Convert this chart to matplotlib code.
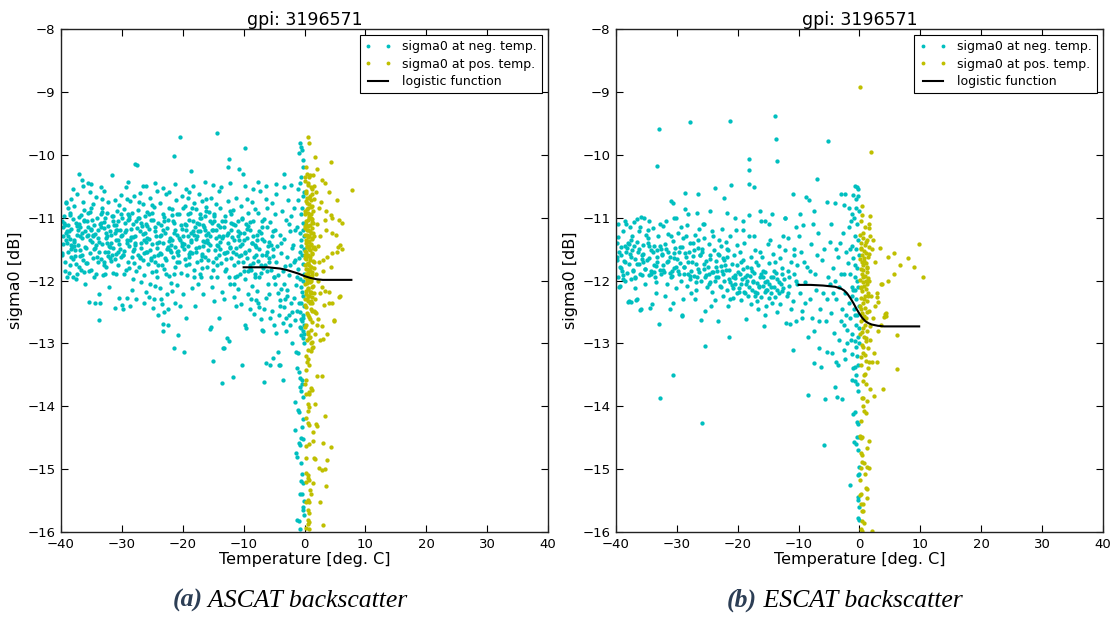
import matplotlib
matplotlib.use("Agg")
import matplotlib.pyplot as plt

# ---------------- data ----------------
TITLE = "gpi: 3196571"
XTICKS = [-40, -30, -20, -10, 0, 10, 20, 30, 40]
YTICKS = [-16, -15, -14, -13, -12, -11, -10, -9, -8]

# ---- panel (a) ASCAT: logistic fit ----
A_FIT_X = [-10, -8, -6, -5, -4, -3, -2, -1, 0, 1, 2, 3, 4, 6, 7.7]
A_FIT_Y = [-11.79, -11.79, -11.79, -11.80, -11.81, -11.83, -11.86, -11.89,
           -11.93, -11.96, -11.98, -11.99, -11.99, -11.99, -11.99]

# ---- panel (a) sigma0 at negative temperature ----
A_NEG_W = [
    (-39.8,-11.05),(-39.6,-11.42),(-39.5,-10.98),(-39.3,-11.71),(-39.2,-11.25),(-39.1,-10.76),(-38.9,-11.55),(-38.8,-11.12),
    (-38.7,-11.88),(-38.6,-11.34),(-38.5,-10.92),(-38.4,-11.63),(-38.3,-11.18),(-38.2,-11.47),(-38.1,-11.02),(-39.9,-11.6),
    (-39.7,-11.3),(-39.4,-11.85),(-39.0,-11.4),(-38.9,-10.85),(-38.6,-11.75),(-38.3,-11.5),(-38.1,-11.95),(-39.3,-11.12),
    (-38.7,-11.22),(-39.6,-11.15),(-38.4,-10.7),(-39.0,-11.95),
    (-37.9,-11.36),(-37.8,-10.82),(-37.7,-11.61),(-37.6,-11.09),(-37.5,-11.98),(-37.4,-11.27),(-37.3,-10.62),(-37.2,-11.44),
    (-37.1,-10.31),(-37.0,-11.79),(-36.9,-11.15),(-36.8,-11.52),(-36.7,-10.96),(-36.6,-10.40),(-36.5,-11.33),(-36.4,-11.68),
    (-36.3,-11.04),(-36.2,-11.87),(-36.1,-11.21),(-36.0,-12.05),(-37.8,-11.45),(-37.4,-11.9),(-37.0,-11.1),(-36.6,-11.6),
    (-36.2,-10.88),(-37.6,-11.74),(-36.9,-11.3),(-36.4,-10.75),(-37.2,-11.2),(-36.7,-11.84),
    (-35.9,-11.49),(-35.8,-11.06),(-35.7,-11.72),(-35.6,-10.45),(-35.5,-11.28),(-35.4,-12.34),(-35.3,-10.91),(-35.2,-11.57),
    (-35.1,-11.19),(-35.0,-11.83),(-34.9,-11.38),(-34.8,-10.78),(-34.7,-11.64),(-34.6,-11.12),(-34.5,-11.95),(-34.4,-11.26),
    (-34.3,-10.67),(-34.2,-11.44),(-34.1,-11.01),(-34.0,-11.71),(-35.8,-11.3),(-35.4,-11.85),(-35.0,-10.85),(-34.6,-11.5),
    (-34.2,-11.9),(-35.6,-11.15),(-34.8,-11.3),(-34.4,-12.35),(-35.2,-10.6),(-34.0,-11.2),
    (-33.9,-11.33),(-33.8,-12.21),(-33.7,-12.63),(-33.6,-12.36),(-33.5,-11.09),(-33.4,-11.66),(-33.3,-10.85),(-33.2,-11.42),
    (-33.1,-11.92),(-33.0,-11.17),(-32.9,-10.58),(-32.8,-11.54),(-32.7,-11.01),(-32.6,-11.78),(-32.5,-11.29),(-32.4,-10.93),
    (-32.3,-11.61),(-32.2,-11.13),(-32.1,-12.1),(-32.0,-11.47),(-33.8,-11.55),(-33.4,-10.95),(-33.0,-11.75),(-32.6,-11.25),
    (-32.2,-10.75),(-33.6,-11.1),(-32.8,-11.9),(-32.4,-11.4),(-33.2,-10.7),(-32.0,-11.65),
    (-31.9,-11.21),(-31.8,-11.69),(-31.7,-10.98),(-31.6,-10.33),(-31.5,-11.48),(-31.4,-11.88),(-31.3,-11.12),(-31.2,-10.72),
    (-31.1,-12.44),(-31.0,-11.35),(-30.9,-11.58),(-30.8,-10.89),(-30.7,-11.76),(-30.6,-11.05),(-30.5,-11.42),(-30.4,-12.28),
    (-30.3,-11.19),(-30.2,-10.64),(-30.1,-11.63),(-30.0,-12.39),(-31.8,-11.4),(-31.4,-11.05),(-31.0,-11.9),(-30.6,-11.55),
    (-30.2,-11.3),(-31.6,-11.6),(-30.8,-11.2),(-30.4,-10.8),(-31.2,-11.25),(-30.0,-11.0),
    (-29.9,-11.27),(-29.8,-12.46),(-29.7,-10.86),(-29.6,-11.53),(-29.5,-11.09),(-29.4,-11.84),(-29.3,-10.52),(-29.2,-11.36),
    (-29.1,-12.28),(-29.0,-11.71),(-28.9,-11.02),(-28.8,-11.45),(-28.7,-10.74),(-28.6,-12.41),(-28.5,-11.18),(-28.4,-11.62),
    (-28.3,-10.93),(-28.2,-11.97),(-28.1,-11.31),(-28.0,-10.66),(-29.8,-11.6),(-29.4,-11.2),(-29.0,-10.95),(-28.6,-11.35),
    (-28.2,-11.1),(-29.6,-11.9),(-28.8,-11.8),(-28.4,-12.15),(-29.2,-10.7),(-28.0,-11.5),
    (-27.9,-11.41),(-27.8,-10.14),(-27.7,-12.3),(-27.6,-11.06),(-27.5,-10.17),(-27.4,-11.59),(-27.3,-10.88),(-27.2,-11.79),
    (-27.1,-11.22),(-27.0,-10.61),(-26.9,-11.48),(-26.8,-12.02),(-26.7,-11.13),(-26.6,-11.67),(-26.5,-10.79),(-26.4,-11.36),
    (-26.3,-11.91),(-26.2,-10.97),(-26.1,-11.55),(-26.0,-12.18),(-27.8,-11.3),(-27.4,-11.0),(-27.0,-11.65),(-26.6,-10.5),
    (-26.2,-11.25),(-27.6,-11.85),(-26.8,-11.4),(-26.4,-12.35),(-27.2,-10.75),(-26.0,-11.1),
    (-25.9,-11.32),(-25.8,-10.91),(-25.7,-11.74),(-25.6,-11.18),(-25.5,-12.26),(-25.4,-10.69),(-25.3,-11.51),(-25.2,-11.03),
    (-25.1,-11.87),(-25.0,-11.42),(-24.9,-12.44),(-24.8,-10.83),(-24.7,-11.61),(-24.6,-11.15),(-24.5,-12.08),(-24.4,-11.29),
    (-24.3,-10.58),(-24.2,-11.95),(-24.1,-12.55),(-24.0,-11.08),(-25.8,-11.55),(-25.4,-12.05),(-25.0,-10.8),(-24.6,-11.7),
    (-24.2,-11.4),(-25.6,-10.95),(-24.8,-12.3),(-24.4,-11.85),(-25.2,-11.65),(-24.0,-11.6),
    (-23.9,-11.39),(-23.8,-12.12),(-23.7,-10.76),(-23.6,-11.58),(-23.5,-11.11),(-23.4,-12.38),(-23.3,-10.95),(-23.2,-12.69),
    (-23.1,-12.5),(-23.0,-11.82),(-22.9,-11.25),(-22.8,-10.63),(-22.7,-11.68),(-22.6,-12.21),(-22.5,-11.04),(-22.4,-11.47),
    (-22.3,-10.85),(-22.2,-11.93),(-22.1,-11.33),(-22.0,-12.04),(-23.8,-11.3),(-23.4,-11.75),(-23.0,-11.05),(-22.6,-11.5),
    (-22.2,-10.6),(-23.6,-12.3),(-22.8,-11.9),(-22.4,-12.45),(-23.2,-11.2),(-22.0,-11.55),(-23.2,-12.81),(-22.5,-12.7),
    (-21.9,-11.44),(-21.8,-10.87),(-21.7,-12.16),(-21.6,-11.62),(-21.5,-10.02),(-21.5,-13.07),(-21.4,-11.09),(-21.3,-12.35),
    (-21.2,-11.78),(-21.1,-10.72),(-21.0,-11.27),(-20.9,-12.07),(-20.8,-12.87),(-20.7,-11.53),(-20.6,-10.94),(-20.5,-9.71),
    (-20.4,-11.36),(-20.3,-11.88),(-20.2,-10.66),(-20.1,-11.18),(-20.0,-12.22),(-21.8,-11.35),(-21.4,-11.9),(-21.0,-10.95),
    (-20.6,-11.7),(-20.2,-11.45),(-21.6,-11.05),(-20.8,-11.6),(-20.4,-12.4),(-21.2,-11.2),(-20.0,-10.85),
]
A_NEG_M = [
    (-19.9,-11.29),(-19.8,-13.13),(-19.7,-10.81),(-19.6,-11.66),(-19.5,-12.59),(-19.4,-11.12),(-19.3,-11.91),(-19.2,-10.69),
    (-19.1,-11.45),(-19.0,-11.03),(-18.9,-11.74),(-18.8,-10.92),(-18.7,-11.38),(-18.6,-10.26),(-18.5,-11.57),(-18.4,-12.12),
    (-18.3,-11.21),(-18.2,-10.77),(-18.1,-11.83),(-18.0,-12.4),(-19.8,-11.5),(-19.4,-11.75),(-19.0,-10.6),(-18.6,-11.25),
    (-18.2,-11.95),(-19.6,-11.1),(-18.8,-11.55),(-18.4,-10.85),(-19.2,-11.3),(-18.0,-11.15),
    (-17.9,-11.34),(-17.8,-10.86),(-17.7,-11.71),(-17.6,-11.08),(-17.5,-12.05),(-17.4,-11.46),(-17.3,-10.63),(-17.2,-11.22),
    (-17.1,-11.89),(-17.0,-11.01),(-16.9,-11.58),(-16.8,-10.74),(-16.7,-11.37),(-16.6,-12.21),(-16.5,-11.15),(-16.4,-10.97),
    (-16.3,-11.63),(-16.2,-11.28),(-16.1,-10.83),(-16.0,-11.78),(-17.8,-11.55),(-17.4,-11.1),(-17.0,-11.95),(-16.6,-11.45),
    (-16.2,-10.7),(-17.6,-11.3),(-16.8,-11.8),(-16.4,-11.2),(-17.2,-10.95),(-16.0,-11.35),
    (-15.9,-11.25),(-15.8,-11.67),(-15.7,-10.91),(-15.6,-12.77),(-15.5,-11.43),(-15.4,-10.68),(-15.3,-12.74),(-15.2,-11.19),
    (-15.1,-13.28),(-15.0,-11.84),(-14.9,-11.06),(-14.8,-12.32),(-14.7,-11.51),(-14.6,-10.79),(-14.5,-11.33),(-14.4,-9.65),
    (-14.3,-11.94),(-14.2,-11.12),(-14.1,-10.58),(-14.0,-12.6),(-15.8,-11.4),(-15.4,-11.95),(-15.0,-11.2),(-14.6,-11.65),
    (-14.2,-11.45),(-15.6,-11.05),(-14.8,-10.95),(-14.4,-11.75),(-15.2,-12.1),(-14.0,-11.3),
    (-13.9,-11.39),(-13.8,-10.84),(-13.7,-11.72),(-13.6,-12.18),(-13.5,-13.63),(-13.4,-13.08),(-13.3,-11.15),(-13.2,-13.07),
    (-13.1,-11.56),(-13.0,-10.97),(-12.9,-11.81),(-12.8,-12.92),(-12.7,-11.27),(-12.6,-10.73),(-12.5,-10.19),(-12.4,-10.07),
    (-12.4,-12.97),(-12.3,-11.48),(-12.2,-12.05),(-12.1,-11.09),(-12.0,-11.64),(-13.8,-11.5),(-13.4,-11.3),(-13.0,-11.85),
    (-12.6,-11.4),(-12.2,-10.9),(-13.6,-11.05),(-12.8,-11.55),(-12.4,-11.95),(-13.2,-12.3),(-12.0,-11.2),
    (-11.9,-11.31),(-11.8,-13.53),(-11.7,-10.88),(-11.6,-11.76),(-11.5,-12.26),(-11.4,-11.12),(-11.3,-10.69),(-11.2,-11.49),
    (-11.1,-11.93),(-11.0,-11.05),(-10.9,-12.14),(-10.8,-10.23),(-10.7,-11.61),(-10.6,-11.24),(-10.5,-10.81),(-10.4,-12.37),
    (-10.3,-13.35),(-10.2,-11.42),(-10.1,-10.31),(-10.0,-11.85),(-11.8,-11.55),(-11.4,-11.95),(-11.0,-11.7),(-10.6,-11.9),
    (-10.2,-11.0),(-11.6,-12.05),(-10.8,-11.35),(-10.4,-11.6),(-11.2,-12.4),(-10.0,-11.25),
    (-9.9,-11.36),(-9.8,-11.97),(-9.7,-9.9),(-9.7,-12.71),(-9.6,-12.75),(-9.5,-11.18),(-9.4,-11.64),(-9.3,-12.22),
    (-9.2,-10.93),(-9.1,-11.51),(-9.0,-12.45),(-8.9,-11.07),(-8.8,-11.83),(-8.7,-10.75),(-8.6,-12.09),(-8.5,-11.29),
    (-8.4,-11.72),(-8.3,-12.53),(-8.2,-10.86),(-8.1,-11.44),(-8.0,-12.31),(-9.8,-11.55),(-9.4,-10.7),(-9.0,-11.75),
    (-8.6,-11.4),(-8.2,-11.95),(-9.6,-11.1),(-8.8,-12.3),(-8.4,-11.05),(-9.2,-11.85),(-8.0,-11.6),
    (-7.9,-11.47),(-7.8,-12.16),(-7.7,-10.92),(-7.6,-11.69),(-7.5,-12.42),(-7.4,-11.21),(-7.3,-10.58),(-7.2,-11.88),
    (-7.1,-12.61),(-7.0,-12.79),(-6.9,-11.34),(-6.8,-12.81),(-6.7,-11.02),(-6.6,-13.62),(-6.5,-11.76),(-6.4,-12.28),
    (-6.3,-13.32),(-6.2,-11.55),(-6.1,-10.84),(-6.0,-12.05),(-7.8,-11.35),(-7.4,-11.95),(-7.0,-11.6),(-6.6,-12.45),
    (-6.2,-11.15),(-7.6,-12.35),(-6.8,-11.8),(-6.4,-10.7),(-7.2,-11.25),(-6.0,-11.45),
    (-5.9,-11.38),(-5.8,-12.22),(-5.7,-13.35),(-5.6,-11.07),(-5.5,-11.84),(-5.4,-12.49),(-5.3,-10.76),(-5.2,-13.24),
    (-5.1,-11.61),(-5.0,-12.7),(-4.9,-11.19),(-4.8,-12.06),(-4.7,-10.62),(-4.6,-12.83),(-4.5,-11.45),(-4.4,-13.14),
    (-4.3,-11.92),(-4.2,-13.34),(-4.1,-12.31),(-4.0,-11.28),(-5.8,-11.65),(-5.4,-11.3),(-5.0,-11.95),(-4.6,-11.7),
    (-4.2,-12.55),(-5.6,-12.6),(-4.8,-10.95),(-4.4,-12.2),(-5.2,-11.5),(-4.0,-12.4),(-3.96,-13.35),
]
A_NEG_E = [
    (-3.9,-11.56),(-3.8,-12.13),(-3.7,-10.89),(-3.6,-12.67),(-3.5,-13.59),(-3.4,-11.34),(-3.4,-10.3),(-3.3,-12.42),
    (-3.2,-11.77),(-3.1,-12.8),(-3.0,-11.03),(-2.9,-12.25),(-2.8,-11.62),(-2.7,-10.72),(-2.6,-12.55),(-2.5,-11.91),
    (-2.4,-11.22),(-2.3,-12.71),(-2.2,-10.97),(-2.1,-12.99),(-2.0,-11.48),(-3.8,-11.4),(-3.4,-12.05),(-3.0,-12.6),
    (-2.6,-11.1),(-2.2,-12.35),(-3.6,-11.85),(-2.8,-12.15),(-2.4,-11.75),(-3.2,-12.3),(-2.0,-12.5),
    (-1.9,-11.43),(-1.8,-12.28),(-1.7,-10.84),(-1.6,-12.63),(-1.5,-11.67),(-1.5,-13.93),(-1.4,-13.13),(-1.4,-12.07),
    (-1.3,-13.39),(-1.3,-11.15),(-1.2,-12.48),(-1.1,-11.82),(-1.0,-13.15),(-1.0,-10.72),(-0.9,-12.36),(-0.9,-13.46),
    (-0.8,-11.54),(-0.8,-12.74),(-0.7,-13.55),(-0.7,-11.98),(-0.6,-10.95),(-0.6,-12.61),(-0.5,-11.36),(-0.5,-12.86),
    (-0.4,-13.59),(-0.4,-12.19),(-0.3,-11.73),(-0.3,-12.55),(-0.2,-11.08),(-0.2,-12.92),(-0.1,-12.4),(-0.1,-11.5),
    (-1.8,-11.7),(-1.6,-11.2),(-1.2,-11.95),(-0.8,-11.25),(-0.6,-12.1),(-0.4,-10.85),(-0.2,-12.25),(-0.1,-12.7),
    (-0.3,-11.2),(-0.5,-12.35),(-0.7,-12.5),(-0.9,-11.65),(-0.15,-11.9),(-0.25,-12.0),(-0.35,-12.65),(-0.45,-11.6),
    (-0.55,-12.75),(-0.65,-11.45),(-0.15,-10.6),(-0.3,-10.65),(-0.68,-9.81),(-0.46,-9.92),(-0.95,-9.97),(-0.62,-9.87),
    (-0.18,-10.08),(-0.24,-10.19),(-0.5,-10.35),(-0.8,-10.45),(-0.1,-12.85),(-0.2,-12.6),(-0.05,-11.3),(-0.12,-13.0),
    (-0.3,-12.8),
    (-1.0,-14.06),(-0.9,-14.09),(-1.5,-14.37),(-0.4,-14.33),(-0.5,-14.50),(-0.2,-14.52),(-0.9,-14.58),(-0.7,-14.61),
    (-1.4,-14.74),(-1.3,-14.81),(-0.4,-15.08),(-0.6,-15.19),(-0.3,-15.22),(-0.7,-15.39),(-0.4,-15.40),(-0.3,-15.6),
    (-0.2,-15.65),(-0.05,-15.73),(-1.3,-15.81),(-0.9,-15.83),(-0.7,-15.96),(-0.5,-13.75),(-0.3,-13.85),(-0.8,-13.7),
    (-0.2,-14.2),(-0.6,-14.9),(-0.1,-15.5),(-0.4,-13.65),
]
A_NEG_ROW = [
    (-35.0,-10.47),(-33.4,-10.52),(-29.0,-10.44),(-26.0,-10.49),(-24.6,-10.45),(-23.2,-10.53),(-21.3,-10.47),(-18.3,-10.5),
    (-16.4,-10.43),(-15.0,-10.48),(-13.7,-10.52),(-12.3,-10.45),(-9.8,-10.49),(-8.5,-10.55),(-7.6,-10.44),(-6.3,-10.5),
    (-4.6,-10.46),(-3.3,-10.52),(-2.2,-10.48),(-1.05,-10.55),(-38.0,-10.55),(-39.2,-10.75),(-36.4,-10.5),(-19.5,-10.55),
]
A_NEG_CORE = [
    (-39.5,-11.08),(-39.2,-11.36),(-39.8,-11.57),(-39.0,-11.21),(-38.6,-10.96),(-38.3,-11.44),(-38.9,-11.29),(-38.1,-11.66),
    (-37.4,-11.13),(-37.7,-11.52),(-37.1,-10.99),(-37.9,-11.39),(-36.5,-11.24),(-36.8,-11.61),(-36.2,-11.06),(-36.0,-11.47),
    (-35.6,-10.93),(-35.3,-11.35),(-35.9,-11.72),(-35.1,-11.18),(-34.7,-11.27),(-34.4,-11.49),(-34.9,-11.04),(-34.1,-11.63),
    (-33.5,-11.15),(-33.8,-11.38),(-33.2,-10.91),(-33.0,-11.7),(-32.6,-11.32),(-32.3,-11.55),(-32.9,-11.07),(-32.1,-11.45),
    (-31.5,-10.98),(-31.8,-11.28),(-31.2,-11.66),(-31.0,-11.12),(-30.6,-11.36),(-30.3,-11.5),(-30.9,-11.19),(-30.1,-10.95),
    (-29.5,-11.23),(-29.8,-11.6),(-29.2,-11.41),(-29.0,-11.04),(-28.5,-11.31),(-28.8,-10.97),(-28.2,-11.53),(-28.0,-11.72),
    (-27.5,-11.17),(-27.8,-11.44),(-27.2,-11.0),(-27.0,-11.62),(-26.6,-11.26),(-26.3,-11.57),(-26.9,-11.09),(-26.1,-11.38),
    (-25.5,-11.34),(-25.8,-11.14),(-25.2,-11.68),(-25.0,-10.92),(-24.6,-11.21),(-24.3,-11.49),(-24.9,-11.03),(-24.1,-11.75),
    (-23.5,-11.28),(-23.8,-11.57),(-23.2,-11.41),(-23.0,-10.99),(-22.6,-11.16),(-22.3,-11.37),(-22.9,-11.64),(-22.1,-11.51),
    (-21.5,-11.24),(-21.8,-10.96),(-21.2,-11.46),(-21.0,-11.7),(-20.6,-11.32),(-20.3,-11.11),(-20.9,-11.55),(-20.1,-11.4),
    (-19.5,-11.19),(-19.8,-11.42),(-19.2,-10.94),(-19.0,-11.63),(-18.6,-11.35),(-18.3,-11.06),(-18.9,-11.58),(-18.1,-11.27),
    (-17.5,-11.21),(-17.8,-11.49),(-17.2,-11.0),(-17.0,-11.67),(-16.6,-11.12),(-16.3,-11.38),(-16.9,-11.61),(-16.1,-10.9),
    (-15.5,-11.29),(-15.8,-11.52),(-15.2,-11.08),(-15.0,-11.7),(-14.6,-11.2),(-14.3,-11.43),(-14.9,-10.98),(-14.1,-11.6),
    (-13.5,-11.33),(-13.8,-11.15),(-13.2,-11.56),(-13.0,-11.05),(-12.6,-11.24),(-12.3,-11.47),(-12.9,-11.66),(-12.1,-10.95),
    (-11.5,-11.36),(-11.8,-11.1),(-11.2,-11.58),(-11.0,-11.22),(-10.6,-11.45),(-10.3,-11.02),(-10.9,-11.29),(-10.1,-11.71),
    (-9.5,-11.33),(-9.8,-11.56),(-9.2,-11.14),(-9.0,-11.8),(-8.6,-11.41),(-8.3,-11.62),(-8.9,-11.2),(-8.1,-11.9),
    (-7.5,-11.5),(-7.8,-11.28),(-7.2,-11.75),(-7.0,-11.05),(-6.6,-11.37),(-6.3,-11.6),(-6.9,-11.15),(-6.1,-11.85),
    (-5.5,-11.44),(-5.8,-11.7),(-5.2,-11.22),(-5.0,-11.95),
]

# ---- panel (a) sigma0 at positive temperature ----
A_POS_COL = [
    (0.1,-10.42),(0.6,-10.48),(1.2,-10.55),(0.3,-10.61),(0.9,-10.66),(1.5,-10.7),(0.2,-10.74),(0.7,-10.79),
    (1.1,-10.83),(0.4,-10.87),(1.4,-10.9),(0.15,-10.94),(0.8,-10.97),(1.0,-11.01),(0.5,-11.04),(1.3,-11.07),
    (0.25,-11.1),(0.65,-11.13),(1.15,-11.16),(0.35,-11.19),(0.95,-11.22),(1.45,-11.25),(0.1,-11.28),(0.55,-11.31),
    (1.25,-11.34),(0.75,-11.37),(0.2,-11.4),(1.05,-11.43),(0.45,-11.46),(1.35,-11.49),(0.85,-11.52),(0.3,-11.55),
    (1.2,-11.58),(0.6,-11.61),(0.1,-11.64),(0.9,-11.67),(1.5,-11.7),(0.4,-11.73),(0.7,-11.76),(1.1,-11.79),
    (0.2,-11.82),(0.95,-11.85),(0.5,-11.88),(1.3,-11.91),(0.15,-11.94),(0.8,-11.97),(1.0,-12.0),(0.35,-12.04),
    (1.4,-12.08),(0.6,-12.12),(0.25,-12.16),(1.1,-12.2),(0.75,-12.25),(0.45,-12.3),(0.9,-12.36),(0.2,-12.42),
    (1.2,-12.48),(0.55,-12.55),(0.85,-12.62),(0.3,-12.7),(1.05,-12.78),(0.5,-12.85),
    (0.5,-10.45),(1.0,-10.52),(0.2,-10.58),(1.3,-10.63),(0.8,-10.69),(0.4,-10.76),(1.2,-10.81),(0.6,-10.85),
    (0.1,-10.9),(1.0,-10.95),(0.7,-11.0),(0.3,-11.05),(1.4,-11.09),(0.9,-11.12),(0.15,-11.17),(0.6,-11.2),
    (1.1,-11.24),(0.4,-11.27),(0.8,-11.3),(1.3,-11.33),(0.2,-11.36),(0.65,-11.39),(1.0,-11.42),(0.35,-11.45),
    (1.5,-11.47),(0.75,-11.5),(0.1,-11.53),(1.2,-11.56),(0.5,-11.59),(0.9,-11.63),(0.3,-11.66),(1.35,-11.69),
    (0.6,-11.72),(0.15,-11.75),(1.05,-11.78),(0.45,-11.81),(0.8,-11.84),(1.25,-11.87),(0.25,-11.9),(0.7,-11.93),
    (1.15,-11.96),(0.4,-11.99),(0.9,-12.03),(0.1,-12.06),(1.3,-12.1),(0.55,-12.14),(0.85,-12.18),(0.3,-12.22),
    (1.2,-12.27),(0.65,-12.33),(0.15,-12.39),(1.0,-12.45),(0.4,-12.51),(0.75,-12.58),(1.3,-12.66),(0.1,-12.74),
    (0.6,-12.82),(0.95,-12.9),
    (1.6,-10.5),(0.35,-10.68),(1.05,-10.72),(0.55,-10.93),(1.25,-11.02),(0.05,-11.14),(1.55,-11.3),(0.7,-11.45),
    (0.05,-11.6),(1.6,-11.8),(0.6,-11.95),(1.5,-12.2),(0.05,-12.3),(1.7,-12.5),(0.45,-12.95),(1.0,-13.0),
    (0.7,-10.35),(0.35,-10.3),
]
A_POS_SCAT = [
    (0.64,-9.71),(0.7,-9.82),(0.25,-10.19),(1.8,-10.04),(2.1,-10.23),(4.4,-10.11),(7.8,-10.56),(0.9,-10.32),
    (1.4,-10.32),(0.15,-10.35),(2.8,-10.4),(3.3,-10.45),(4.0,-10.59),(5.4,-10.72),(4.3,-10.96),(3.3,-11.04),
    (5.7,-11.04),(4.5,-11.0),(6.2,-11.09),(5.1,-11.28),(4.5,-11.25),(5.5,-11.46),(5.9,-11.44),(6.2,-11.5),
    (5.4,-11.54),(4.5,-11.56),(3.7,-11.62),(3.0,-11.67),(4.4,-11.78),(5.8,-12.25),(4.9,-12.63),(4.0,-12.19),
    (3.2,-12.39),(2.8,-12.1),(2.2,-12.0),(1.9,-10.6),(2.3,-10.85),(2.0,-11.1),(2.6,-11.3),(1.8,-11.5),
    (2.4,-11.7),(1.9,-11.9),(2.7,-10.75),(3.6,-11.2),(2.2,-11.45),(3.1,-11.85),(1.7,-12.3),(2.5,-12.2),
    (3.5,-10.9),(2.1,-12.7),(1.8,-12.85),(2.6,-12.95),
]
A_POS_LOW = [
    (5.7,-12.26),(4.8,-12.65),(2.9,-12.73),(3.7,-12.85),(3.0,-12.93),(1.9,-12.52),(1.6,-12.48),(2.2,-12.61),
    (1.0,-12.32),(1.3,-12.35),(0.6,-12.24),(1.0,-12.19),(4.0,-12.35),(4.5,-12.35),(3.3,-12.16),
    (0.8,-12.92),(1.2,-12.98),(1.4,-13.05),(0.6,-13.1),(1.0,-13.12),(1.3,-13.08),(0.2,-13.2),(0.6,-13.25),
    (0.4,-13.3),(0.8,-13.35),(0.2,-13.42),(2.0,-13.52),(2.8,-13.52),(0.2,-13.58),(0.05,-13.64),(1.0,-13.71),
    (1.2,-13.74),(0.7,-13.78),(0.2,-13.80),(0.8,-13.81),(1.8,-13.97),(0.6,-13.97),(0.7,-14.01),(0.5,-14.08),
    (3.3,-14.16),(0.2,-14.19),(0.6,-14.27),(0.8,-14.30),(1.9,-14.29),(2.1,-14.31),(1.4,-14.41),(0.3,-14.64),
    (0.8,-14.6),(1.4,-14.56),(3.0,-14.58),(4.4,-14.65),(0.3,-14.83),(1.5,-14.83),(1.7,-14.84),(3.7,-14.86),
    (2.8,-15.02),(3.3,-15.0),(2.3,-14.98),(0.2,-15.06),(0.6,-15.09),(0.5,-15.14),(0.7,-15.18),(0.2,-15.2),
    (1.4,-15.22),(3.5,-15.27),(0.9,-15.33),(1.1,-15.40),(0.6,-15.49),(0.3,-15.52),(0.8,-15.53),(2.5,-15.52),
    (0.5,-15.65),(0.8,-15.69),(0.5,-15.81),(0.8,-15.84),(0.6,-15.88),(3.1,-15.89),(0.3,-15.93),(0.7,-15.95),
]

# ---- panel (b) ESCAT: logistic fit ----
B_FIT_X = [-10, -8, -6, -5, -4, -3, -2.5, -2, -1.5, -1, -0.5, 0, 0.5, 1, 1.5, 2, 3, 4, 6, 9.8]
B_FIT_Y = [-12.07, -12.07, -12.08, -12.09, -12.10, -12.13, -12.16, -12.21, -12.28, -12.36,
           -12.45, -12.53, -12.60, -12.65, -12.68, -12.70, -12.72, -12.73, -12.73, -12.73]

# ---- panel (b) sigma0 at negative temperature ----
B_NEG_W = [
    (-39.9,-11.62),(-39.7,-11.95),(-39.6,-11.31),(-39.4,-11.78),(-39.3,-12.08),(-39.1,-11.46),(-39.0,-11.85),(-38.8,-11.22),
    (-38.7,-11.69),(-38.5,-12.0),(-38.4,-11.54),(-38.2,-11.88),(-38.1,-12.34),(-38.0,-11.4),(-37.9,-12.33),(-37.8,-11.73),
    (-37.7,-11.15),(-37.6,-11.97),(-37.5,-12.34),(-39.8,-11.4),(-39.2,-11.6),(-38.6,-11.45),(-38.3,-11.1),(-37.7,-11.58),
    (-39.5,-12.1),(-38.9,-11.98),(-37.6,-11.35),
    (-37.4,-11.51),(-37.2,-11.83),(-37.1,-11.07),(-36.9,-11.66),(-36.8,-12.12),(-36.7,-12.31),(-36.6,-12.3),(-36.5,-11.38),
    (-36.3,-11.74),(-36.2,-11.21),(-36.0,-12.47),(-35.9,-12.45),(-35.8,-11.59),(-35.7,-11.92),(-35.5,-11.44),(-35.4,-11.0),
    (-35.3,-11.81),(-35.1,-11.27),(-37.3,-11.3),(-36.9,-11.95),(-36.4,-11.55),(-36.1,-11.9),(-35.6,-11.7),(-35.2,-12.05),
    (-37.0,-11.45),(-36.0,-11.15),
    (-34.9,-11.68),(-34.7,-11.33),(-34.6,-11.91),(-34.4,-12.44),(-34.3,-11.52),(-34.1,-12.38),(-34.0,-11.17),(-33.8,-11.76),
    (-33.7,-11.45),(-33.5,-12.02),(-33.3,-10.18),(-33.3,-11.62),(-33.1,-11.29),(-32.9,-9.585),(-32.9,-12.69),(-32.8,-11.84),
    (-32.7,-13.87),(-32.6,-11.5),(-34.8,-11.2),(-34.2,-11.85),(-33.9,-11.55),(-33.6,-11.95),(-33.2,-11.7),(-32.7,-11.1),
    (-34.5,-11.45),(-33.4,-12.2),(-32.6,-11.9),
    (-32.4,-11.58),(-32.2,-11.14),(-32.1,-11.87),(-31.9,-11.42),(-31.7,-12.05),(-31.6,-11.71),(-31.4,-11.26),(-31.2,-12.46),
    (-31.1,-11.63),(-31.0,-10.73),(-30.9,-11.95),(-30.7,-11.37),(-30.6,-10.76),(-30.6,-12.35),(-30.6,-13.51),(-30.4,-11.8),
    (-30.3,-11.49),(-30.1,-12.12),(-32.3,-11.75),(-31.8,-11.05),(-31.5,-11.55),(-31.0,-11.3),(-30.5,-11.65),(-30.2,-11.0),
    (-32.0,-12.25),(-30.8,-11.85),
    (-29.9,-11.66),(-29.8,-11.24),(-29.6,-11.89),(-29.5,-11.47),(-29.3,-12.0),(-29.2,-12.57),(-29.1,-12.55),(-29.0,-11.33),
    (-28.8,-11.78),(-28.6,-10.61),(-28.6,-11.56),(-28.4,-12.08),(-28.3,-11.12),(-28.1,-11.7),(-27.9,-9.48),(-27.9,-11.93),
    (-27.8,-11.4),(-27.6,-12.2),(-29.7,-11.55),(-29.4,-11.15),(-28.9,-11.9),(-28.5,-11.3),(-28.0,-11.55),(-27.7,-11.85),
    (-29.0,-12.3),(-28.2,-10.95),
    (-27.4,-11.61),(-27.2,-11.93),(-27.1,-11.27),(-26.9,-11.74),(-26.8,-12.15),(-26.6,-10.62),(-26.6,-11.49),(-26.4,-11.86),
    (-26.3,-11.18),(-26.1,-12.0),(-26.0,-12.63),(-25.9,-14.26),(-25.8,-11.55),(-25.6,-11.82),(-25.5,-11.33),(-25.4,-12.49),
    (-25.3,-13.04),(-25.2,-11.69),(-25.1,-12.1),(-27.3,-11.4),(-26.7,-11.95),(-26.2,-11.6),(-25.7,-11.1),(-27.0,-12.3),
    (-26.5,-11.35),(-25.4,-11.95),
    (-24.9,-11.78),(-24.8,-11.42),(-24.6,-12.03),(-24.5,-11.6),(-24.3,-11.22),(-24.2,-12.18),(-24.0,-11.87),(-23.9,-11.51),
    (-23.7,-10.53),(-23.7,-12.31),(-23.5,-11.69),(-23.3,-12.65),(-23.2,-11.95),(-23.0,-11.35),(-22.9,-12.09),(-22.7,-11.77),
    (-22.6,-11.18),(-22.5,-12.24),(-24.7,-11.9),(-24.1,-11.3),(-23.6,-11.95),(-23.1,-11.6),(-22.8,-11.45),(-24.4,-12.4),
    (-23.4,-11.85),(-22.6,-11.85),
    (-22.4,-11.65),(-22.3,-10.68),(-22.2,-12.01),(-22.0,-11.38),(-21.9,-11.83),(-21.7,-12.15),(-21.6,-11.52),(-21.5,-12.9),
    (-21.4,-11.97),(-21.3,-9.46),(-21.2,-11.29),(-21.1,-10.48),(-21.0,-12.07),(-20.9,-11.73),(-20.7,-12.28),(-20.6,-11.6),
    (-20.4,-11.91),(-20.2,-12.2),(-20.1,-11.44),(-22.1,-11.75),(-21.8,-11.5),(-21.3,-12.3),(-20.8,-11.95),(-20.5,-12.05),
    (-20.3,-11.2),(-21.6,-12.4),
]
B_NEG_M = [
    (-19.9,-11.86),(-19.8,-12.12),(-19.6,-11.54),(-19.5,-12.31),(-19.3,-11.97),(-19.2,-11.68),(-19.0,-12.19),(-18.9,-11.41),
    (-18.7,-12.06),(-18.6,-12.62),(-18.5,-11.79),(-18.3,-12.24),(-18.1,-10.07),(-18.1,-10.25),(-18.1,-10.47),(-18.0,-11.93),
    (-17.9,-12.38),(-17.8,-11.62),(-17.6,-12.15),(-17.5,-12.02),(-19.7,-11.9),(-19.4,-11.7),(-18.8,-11.95),(-18.4,-12.0),
    (-17.7,-11.85),(-19.1,-11.2),(-18.2,-11.3),(-17.4,-10.51),
    (-17.4,-11.88),(-17.2,-12.18),(-17.1,-11.51),(-16.9,-12.04),(-16.8,-12.33),(-16.6,-11.76),(-16.5,-12.11),(-16.3,-11.94),
    (-16.2,-12.27),(-16.0,-11.63),(-15.9,-12.08),(-15.7,-12.72),(-15.6,-12.19),(-15.5,-11.87),(-15.4,-12.41),(-15.2,-12.0),
    (-15.1,-11.42),(-17.3,-11.3),(-16.7,-12.45),(-16.4,-11.55),(-15.8,-11.95),(-15.3,-12.15),(-16.1,-11.05),(-17.0,-11.7),
    (-15.6,-12.55),
    (-14.9,-12.05),(-14.8,-11.72),(-14.6,-12.2),(-14.5,-11.95),(-14.3,-12.35),(-14.2,-11.58),(-14.0,-12.1),(-13.9,-9.38),
    (-13.8,-12.27),(-13.7,-9.75),(-13.7,-11.88),(-13.5,-10.1),(-13.5,-12.15),(-13.3,-11.45),(-13.2,-12.03),(-13.0,-12.38),
    (-12.8,-11.8),(-12.7,-12.17),(-12.6,-11.3),(-14.7,-11.35),(-14.1,-11.85),(-13.6,-12.5),(-13.1,-11.65),(-12.9,-12.05),
    (-14.4,-10.95),
    (-12.4,-11.98),(-12.2,-11.52),(-12.1,-12.67),(-11.9,-12.25),(-11.7,-11.33),(-11.5,-12.09),(-11.4,-12.69),(-11.2,-11.71),
    (-11.0,-10.62),(-11.0,-12.32),(-10.9,-13.1),(-10.7,-11.9),(-10.5,-11.15),(-10.4,-12.65),(-10.2,-12.05),(-12.3,-11.0),
    (-11.8,-11.85),(-11.3,-12.45),(-10.8,-11.5),(-10.3,-11.75),
    (-9.8,-12.2),(-9.6,-11.55),(-9.4,-12.48),(-9.2,-11.12),(-9.0,-12.03),(-8.8,-10.67),(-8.7,-11.78),(-8.5,-12.9),
    (-8.5,-13.82),(-8.3,-10.72),(-8.2,-12.3),(-8.0,-11.42),(-7.8,-12.6),(-7.5,-12.81),(-7.4,-13.32),(-7.3,-11.9),
    (-7.1,-12.15),(-6.9,-10.39),(-6.8,-11.25),(-6.6,-13.08),(-6.5,-12.45),(-6.3,-13.38),(-6.2,-11.67),(-6.0,-12.2),
    (-5.8,-14.61),(-5.6,-13.88),(-5.5,-12.65),(-5.3,-10.75),(-5.3,-13.14),(-5.2,-9.78),(-5.1,-11.95),(-9.9,-11.3),
    (-9.1,-11.7),(-8.1,-11.85),(-7.6,-11.1),(-6.7,-12.65),(-5.9,-11.5),(-5.4,-12.3),(-7.0,-11.6),(-9.5,-12.6),
    (-8.9,-12.35),
]
B_NEG_E = [
    (-4.9,-12.05),(-4.8,-11.38),(-4.6,-12.52),(-4.4,-11.8),(-4.2,-12.84),(-4.1,-13.69),(-4.0,-10.76),(-3.9,-12.3),
    (-3.8,-13.3),(-3.7,-13.86),(-3.6,-11.62),(-3.5,-13.35),(-3.4,-12.1),(-3.3,-12.95),(-3.1,-10.63),(-3.0,-11.9),
    (-2.9,-12.45),(-2.8,-13.88),(-2.7,-11.25),(-2.6,-12.7),(-2.5,-13.1),(-2.4,-10.63),(-2.3,-12.2),(-2.2,-11.55),
    (-2.1,-13.0),(-4.7,-11.1),(-4.3,-12.2),(-3.2,-11.4),(-2.6,-11.9),(-3.9,-11.5),(-4.5,-13.15),(-2.2,-12.55),
    (-3.0,-12.65),(-4.1,-12.0),(-2.45,-13.25),
    (-2.06,-12.79),(-1.9,-11.72),(-1.8,-12.35),(-1.7,-11.15),(-1.6,-12.6),(-1.59,-15.26),(-1.5,-11.9),(-1.4,-12.95),
    (-1.3,-11.45),(-1.2,-12.25),(-1.18,-12.85),(-1.18,-13.17),(-1.18,-13.58),(-1.1,-10.64),(-1.06,-14.12),(-1.0,-13.39),
    (-1.0,-11.65),(-0.9,-12.45),(-0.88,-14.57),(-0.82,-12.96),(-0.82,-13.6),(-0.8,-11.3),(-0.75,-12.15),(-0.7,-13.38),
    (-0.7,-14.09),(-0.7,-11.95),(-0.6,-12.7),(-0.59,-13.06),(-0.59,-14.6),(-0.55,-11.5),(-0.5,-12.3),(-0.47,-13.2),
    (-0.47,-13.64),(-0.47,-14.25),(-0.45,-11.1),(-0.41,-14.49),(-0.4,-12.55),(-0.35,-10.52),(-0.35,-11.8),(-0.3,-12.9),
    (-0.29,-14.28),(-0.29,-14.7),(-0.29,-15.1),(-0.29,-15.44),(-0.25,-11.35),(-0.24,-13.75),(-0.24,-15.49),(-0.2,-12.1),
    (-0.18,-15.77),(-0.15,-12.75),(-0.12,-14.97),(-0.1,-11.6),(-0.06,-15.07),(-0.06,-15.6),(-0.06,-15.81),(-0.05,-14.49),
    (-0.1,-13.0),(-0.15,-10.9),(-0.6,-10.85),(-0.9,-11.0),(-1.4,-11.05),(-0.2,-10.65),(-1.2,-10.95),(-0.5,-13.5),
    (-0.3,-13.35),(-0.8,-12.55),(-1.6,-11.5),(-1.3,-12.1),(-0.4,-12.0),(-0.15,-12.4),(-0.7,-11.75),(-1.0,-12.15),
]
B_NEG_ROW = [
    (-28.7,-10.87),(-26.7,-10.93),(-24.5,-10.9),(-21.7,-10.93),(-18.2,-10.96),(-16.4,-10.9),(-12.3,-11.0),(-9.8,-10.95),
    (-7.5,-10.9),(-1.7,-10.85),(-0.8,-10.5),(-0.5,-10.7),(-2.6,-10.8),(-0.2,-10.55),(-38.5,-11.05),(-39.6,-11.1),
    (-34.5,-11.05),(-30.5,-11.0),(-36.5,-11.02),(-35.9,-10.99),(-25.5,-11.1),(-20.4,-11.0),(-19.2,-11.05),(-15.5,-11.05),
    (-14.8,-11.1),
]
B_NEG_CORE = [
    (-39.5,-11.55),(-39.2,-11.8),(-39.8,-11.68),(-38.5,-11.7),(-38.2,-11.48),(-38.8,-11.92),(-37.5,-11.62),(-37.2,-11.85),
    (-37.8,-11.42),(-36.5,-11.73),(-36.2,-11.5),(-36.8,-11.96),(-35.5,-11.58),(-35.2,-11.82),(-35.8,-11.66),(-34.5,-11.64),
    (-34.2,-11.9),(-34.8,-11.4),(-33.5,-11.77),(-33.2,-11.52),(-33.8,-11.86),(-32.5,-11.6),(-32.2,-11.83),(-32.8,-11.45),
    (-31.5,-11.69),(-31.2,-11.88),(-31.8,-11.5),(-30.5,-11.57),(-30.2,-11.78),(-30.8,-11.93),(-29.5,-11.72),(-29.2,-11.47),
    (-29.8,-11.85),(-28.5,-11.63),(-28.2,-11.9),(-28.8,-11.78),(-27.5,-11.7),(-27.2,-11.52),(-27.8,-11.98),(-26.5,-11.81),
    (-26.2,-11.6),(-26.8,-12.03),(-25.5,-11.74),(-25.2,-11.92),(-25.8,-11.5),(-24.5,-11.66),(-24.2,-11.86),(-24.8,-12.05),
    (-23.5,-11.79),(-23.2,-11.58),(-23.8,-12.0),(-22.5,-11.9),(-22.2,-11.68),(-22.8,-12.1),(-21.5,-11.83),(-21.2,-12.02),
    (-21.8,-11.62),(-20.5,-11.96),(-20.2,-11.75),(-20.8,-12.12),(-19.5,-12.05),(-19.2,-11.82),(-19.8,-12.18),(-18.5,-11.92),
    (-18.2,-12.1),(-18.8,-12.2),(-17.5,-12.0),(-17.2,-12.25),(-17.8,-11.8),(-16.5,-12.08),(-16.2,-11.9),(-16.8,-12.2),
    (-15.5,-12.02),(-15.2,-12.15),(-15.8,-11.85),(-14.5,-12.1),(-14.2,-11.95),(-14.8,-12.28),(-13.5,-11.98),(-13.2,-12.2),
    (-13.8,-11.7),(-12.5,-12.12),(-12.8,-11.9),(-11.5,-11.95),(-11.8,-12.2),(-10.5,-12.0),(-10.8,-11.6),
]

# ---- panel (b) sigma0 at positive temperature ----
B_POS_COL = [
    (0.1,-11.28),(0.6,-11.32),(1.2,-11.35),(0.3,-11.4),(0.9,-11.43),(1.5,-11.46),(0.2,-11.5),(0.7,-11.53),
    (1.1,-11.56),(0.4,-11.6),(1.4,-11.62),(0.15,-11.66),(0.8,-11.69),(1.0,-11.72),(0.5,-11.75),(1.3,-11.78),
    (0.25,-11.81),(0.65,-11.84),(1.15,-11.87),(0.35,-11.9),(0.95,-11.93),(1.45,-11.96),(0.1,-11.99),(0.55,-12.02),
    (1.25,-12.05),(0.75,-12.08),(0.2,-12.11),(1.05,-12.14),(0.45,-12.17),(1.35,-12.2),(0.85,-12.24),(0.3,-12.28),
    (1.2,-12.32),(0.6,-12.36),(0.1,-12.4),(0.9,-12.44),(1.5,-12.48),(0.4,-12.52),(0.7,-12.56),(1.1,-12.6),
    (0.2,-12.65),(0.95,-12.7),(0.5,-12.75),(1.3,-12.8),(0.15,-12.85),(0.8,-12.9),(1.0,-12.96),(0.35,-13.02),
    (1.4,-13.08),(0.6,-13.15),(0.25,-13.22),(1.1,-13.28),
    (0.5,-11.25),(1.0,-11.38),(0.3,-11.48),(1.6,-11.58),(0.8,-11.64),(0.4,-11.7),(1.2,-11.8),(0.6,-11.95),
    (1.0,-12.0),(0.3,-12.12),(1.4,-12.25),(0.7,-12.3),(0.2,-12.45),(1.2,-12.5),(0.6,-12.62),(1.7,-12.72),
    (0.4,-12.82),(1.1,-12.92),(0.5,-13.05),(0.9,-13.18),(0.3,-13.35),(1.7,-11.3),(1.6,-12.0),(2.0,-11.5),
    (1.9,-12.25),(2.2,-12.6),(1.8,-12.95),(2.3,-13.15),
]
B_POS_SCAT = [
    (0.1,-8.92),(1.84,-9.95),(0.36,-10.82),(0.47,-10.96),(1.5,-11.1),(1.5,-11.17),(0.2,-11.05),(0.9,-11.15),
    (1.8,-10.97),(3.3,-11.48),(9.7,-11.42),(4.7,-11.62),(5.6,-11.57),(6.6,-11.75),(7.9,-11.64),(8.9,-11.79),
    (10.4,-11.95),(5.7,-11.9),(4.6,-12.0),(3.5,-12.05),(3.7,-12.06),(4.4,-12.52),(4.4,-12.56),(6.2,-12.86),
    (2.8,-12.2),(2.9,-12.26),(3.1,-12.34),(4.2,-12.53),(4.1,-12.58),(6.2,-13.4),(3.9,-13.72),(2.0,-13.29),
    (1.6,-13.3),(2.9,-13.3),(2.4,-13.83),(1.4,-13.39),(2.5,-11.7),(3.0,-12.8),(2.6,-12.4),(2.2,-11.35),
    (3.6,-12.7),
]
B_POS_LOW = [
    (0.9,-13.49),(0.7,-13.5),(1.8,-13.73),(0.6,-13.87),(0.35,-13.87),(1.2,-13.92),(0.5,-13.99),(0.7,-14.07),
    (1.05,-14.1),(0.2,-14.24),(0.02,-14.47),(0.35,-14.49),(0.2,-14.5),(1.5,-14.55),(1.2,-14.66),(0.3,-14.75),
    (0.45,-14.78),(0.45,-14.89),(0.7,-14.91),(0.3,-14.98),(1.3,-14.96),(1.5,-14.98),(0.9,-15.08),(0.05,-15.18),
    (1.05,-15.3),(1.3,-15.31),(0.3,-15.39),(0.02,-15.41),(1.2,-15.46),(0.3,-15.55),(0.6,-15.56),(0.35,-15.66),
    (0.6,-15.67),(0.35,-15.83),(0.7,-15.85),(0.2,-15.95),(0.45,-15.98),(2.0,-15.98),(0.5,-13.6),(1.0,-13.65),
]

# ---------------- drawing ----------------
W, H = 1117, 618
NEG_COLOR = "#00bfbf"
POS_COLOR = "#bfbf00"

fig = plt.figure(figsize=(W / 100, H / 100), dpi=100)
fig.patch.set_facecolor("white")


def xy(*groups):
    pts = [p for g in groups for p in g]
    return [p[0] for p in pts], [p[1] for p in pts]


def panel(left_px, neg, pos, fit_x, fit_y):
    ax = fig.add_axes([left_px / W, (H - 532) / H, 487 / W, 503 / H])
    nx, ny = xy(*neg)
    px, py = xy(*pos)
    mk = dict(linestyle="none", marker="o", ms=3.1, mew=0)
    ax.plot(nx, ny, color=NEG_COLOR, label="sigma0 at neg. temp.", **mk)
    ax.plot(px, py, color=POS_COLOR, label="sigma0 at pos. temp.", **mk)
    ax.plot(fit_x, fit_y, color="black", lw=1.5, label="logistic function")
    ax.set_xlim(-40, 40)
    ax.set_ylim(-16, -8)
    ax.set_xticks(XTICKS)
    ax.set_yticks(YTICKS)
    ax.tick_params(direction="in", top=True, right=True, length=5, width=0.8,
                   labelsize=9.5, pad=4)
    for s in ax.spines.values():
        s.set_linewidth(1.0)
        s.set_color("#222222")
    ax.set_title(TITLE, fontsize=12.5, pad=3)
    ax.set_xlabel("Temperature [deg. C]", fontsize=11.5, labelpad=1)
    ax.set_ylabel("sigma0 [dB]", fontsize=11.5, labelpad=3)
    leg = ax.legend(loc="upper right", numpoints=2, fontsize=9, fancybox=False,
                    framealpha=1, edgecolor="black", borderaxespad=0.5,
                    handlelength=2.2, borderpad=0.4, labelspacing=0.35,
                    markerscale=0.9)
    leg.get_frame().set_linewidth(0.8)
    return ax


panel(61, [A_NEG_W, A_NEG_M, A_NEG_E, A_NEG_ROW, A_NEG_CORE],
      [A_POS_COL, A_POS_SCAT, A_POS_LOW], A_FIT_X, A_FIT_Y)
panel(616, [B_NEG_W, B_NEG_M, B_NEG_E, B_NEG_ROW, B_NEG_CORE],
      [B_POS_COL, B_POS_SCAT, B_POS_LOW], B_FIT_X, B_FIT_Y)

# captions
CAPTIONS = [("(a)", " ASCAT backscatter", 290), ("(b)", " ESCAT backscatter", 845)]
cap_y = (H - 607) / H
items = []
for lab, txt, cx in CAPTIONS:
    t1 = fig.text(0, cap_y, lab, fontsize=18.5, style="italic", weight="bold",
                  family="Liberation Serif", color="#2c3e55", va="baseline")
    t2 = fig.text(0, cap_y, txt, fontsize=18.5, style="italic",
                  family="Liberation Serif", color="black", va="baseline")
    items.append((t1, t2, cx))
fig.canvas.draw()
r = fig.canvas.get_renderer()
for t1, t2, cx in items:
    w1 = t1.get_window_extent(r).width
    w2 = t2.get_window_extent(r).width
    x0 = cx - (w1 + w2) / 2
    t1.set_x(x0 / W)
    t2.set_x((x0 + w1) / W)

fig.savefig("out.png", dpi=100, facecolor="white")
